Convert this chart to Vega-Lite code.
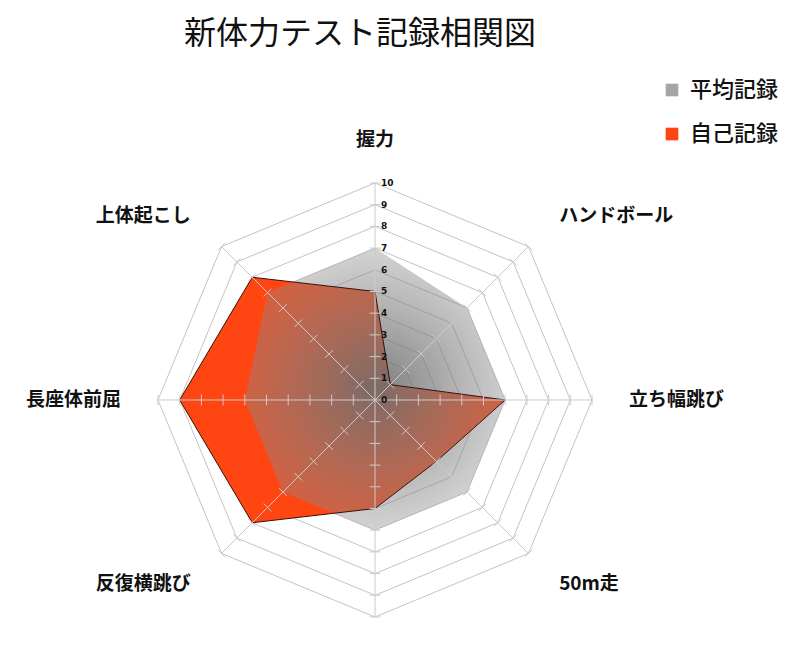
{
  "$schema": "https://vega.github.io/schema/vega-lite/v6.json",
  "width": 800,
  "height": 590,
  "autosize": "none",
  "padding": {"left": 0, "right": 0, "top": 60, "bottom": 0},
  "background": "white",
  "title": {
    "text": "新体力テスト記録相関図",
    "font": "Noto Sans CJK JP",
    "fontSize": 32,
    "fontWeight": "normal",
    "color": "#111111",
    "anchor": "middle",
    "frame": "group",
    "dx": -40,
    "offset": 9
  },
  "config": {"view": {"stroke": null}},
  "datasets": {
    "scores": [
      {"item": "握力", "i": 0, "avg": 7, "self": 5},
      {"item": "ハンドボール", "i": 1, "avg": 6, "self": 1},
      {"item": "立ち幅跳び", "i": 2, "avg": 6, "self": 6},
      {"item": "50m走", "i": 3, "avg": 6, "self": 4},
      {"item": "", "i": 4, "avg": 6, "self": 5},
      {"item": "反復横跳び", "i": 5, "avg": 6, "self": 8},
      {"item": "長座体前屈", "i": 6, "avg": 6, "self": 9},
      {"item": "上体起こし", "i": 7, "avg": 7, "self": 8}
    ],
    "grid": [
      {"level": 0, "spokes": [0, 1, 2, 3, 4, 5, 6, 7]},
      {"level": 1, "spokes": [0, 1, 2, 3, 4, 5, 6, 7]},
      {"level": 2, "spokes": [0, 1, 2, 3, 4, 5, 6, 7]},
      {"level": 3, "spokes": [0, 1, 2, 3, 4, 5, 6, 7]},
      {"level": 4, "spokes": [0, 1, 2, 3, 4, 5, 6, 7]},
      {"level": 5, "spokes": [0, 1, 2, 3, 4, 5, 6, 7]},
      {"level": 6, "spokes": [0, 1, 2, 3, 4, 5, 6, 7]},
      {"level": 7, "spokes": [0, 1, 2, 3, 4, 5, 6, 7]},
      {"level": 8, "spokes": [0, 1, 2, 3, 4, 5, 6, 7]},
      {"level": 9, "spokes": [0, 1, 2, 3, 4, 5, 6, 7]},
      {"level": 10, "spokes": [0, 1, 2, 3, 4, 5, 6, 7]}
    ]
  },
  "layer": [
    {
      "data": {"name": "grid"},
      "transform": [
        {"flatten": ["spokes"], "as": ["spoke"]},
        {"filter": "datum.level > 0"},
        {"calculate": "datum.level * sin(datum.spoke * PI / 4)", "as": "x"},
        {"calculate": "datum.level * cos(datum.spoke * PI / 4)", "as": "y"},
        {"calculate": "datum.level * sin((datum.spoke + 1) * PI / 4)", "as": "x2"},
        {"calculate": "datum.level * cos((datum.spoke + 1) * PI / 4)", "as": "y2"}
      ],
      "mark": {"type": "rule", "color": "#c4c4c4", "strokeWidth": 1},
      "encoding": {
        "x": {"field": "x", "type": "quantitative", "axis": null, "scale": {"domain": [-17.281, 19.585], "nice": false, "zero": false}},
        "y": {"field": "y", "type": "quantitative", "axis": null, "scale": {"domain": [-11.521, 15.668], "nice": false, "zero": false}},
        "x2": {"field": "x2"},
        "y2": {"field": "y2"}
      }
    },
    {
      "data": {"name": "scores"},
      "transform": [
        {"calculate": "datum.self * sin(datum.i * PI / 4)", "as": "x"},
        {"calculate": "datum.self * cos(datum.i * PI / 4)", "as": "y"}
      ],
      "mark": {"type": "line", "interpolate": "linear-closed", "strokeWidth": 0},
      "encoding": {
        "x": {"field": "x", "type": "quantitative", "axis": null, "scale": {"domain": [-17.281, 19.585], "nice": false, "zero": false}},
        "y": {"field": "y", "type": "quantitative", "axis": null, "scale": {"domain": [-11.521, 15.668], "nice": false, "zero": false}},
        "order": {"field": "i", "type": "quantitative"},
        "fill": {
          "datum": "自己記録",
          "type": "nominal",
          "scale": {"domain": ["平均記録", "自己記録"], "range": ["#a6a6a6", "#ff4512"]},
          "legend": {
            "orient": "none",
            "legendX": 661,
            "legendY": 19,
            "title": null,
            "symbolType": "square",
            "symbolSize": 160,
            "symbolStrokeWidth": 0,
            "symbolOpacity": 1,
            "labelFont": "Noto Sans CJK JP",
            "labelFontSize": 22,
            "labelFontWeight": 500,
            "labelColor": "#111111",
            "labelOffset": 7,
            "rowPadding": 22
          }
        }
      }
    },
    {
      "data": {"name": "scores"},
      "transform": [
        {"calculate": "datum.avg * sin(datum.i * PI / 4)", "as": "x"},
        {"calculate": "datum.avg * cos(datum.i * PI / 4)", "as": "y"}
      ],
      "mark": {
        "type": "line",
        "interpolate": "linear-closed",
        "strokeWidth": 0,
        "fill": {
          "gradient": "radial",
          "x1": 0.5, "y1": 0.5, "r1": 0,
          "x2": 0.5, "y2": 0.5, "r2": 0.5,
          "stops": [
            {"offset": 0, "color": "rgba(110,110,110,0.9)"},
            {"offset": 1, "color": "rgba(140,140,140,0.38)"}
          ]
        }
      },
      "encoding": {
        "x": {"field": "x", "type": "quantitative", "axis": null, "scale": {"domain": [-17.281, 19.585], "nice": false, "zero": false}},
        "y": {"field": "y", "type": "quantitative", "axis": null, "scale": {"domain": [-11.521, 15.668], "nice": false, "zero": false}},
        "order": {"field": "i", "type": "quantitative"}
      }
    },
    {
      "data": {"name": "scores"},
      "transform": [
        {"calculate": "datum.self * sin(datum.i * PI / 4)", "as": "x"},
        {"calculate": "datum.self * cos(datum.i * PI / 4)", "as": "y"}
      ],
      "mark": {"type": "line", "interpolate": "linear-closed", "stroke": "#3a1008", "strokeWidth": 1},
      "encoding": {
        "x": {"field": "x", "type": "quantitative", "axis": null, "scale": {"domain": [-17.281, 19.585], "nice": false, "zero": false}},
        "y": {"field": "y", "type": "quantitative", "axis": null, "scale": {"domain": [-11.521, 15.668], "nice": false, "zero": false}},
        "order": {"field": "i", "type": "quantitative"}
      }
    },
    {
      "data": {"name": "grid"},
      "transform": [
        {"flatten": ["spokes"], "as": ["spoke"]},
        {"filter": "datum.level == 10"},
        {"calculate": "0", "as": "x"},
        {"calculate": "0", "as": "y"},
        {"calculate": "datum.level * sin(datum.spoke * PI / 4)", "as": "x2"},
        {"calculate": "datum.level * cos(datum.spoke * PI / 4)", "as": "y2"}
      ],
      "mark": {"type": "rule", "color": "#cbcbcb", "strokeWidth": 1},
      "encoding": {
        "x": {"field": "x", "type": "quantitative", "axis": null, "scale": {"domain": [-17.281, 19.585], "nice": false, "zero": false}},
        "y": {"field": "y", "type": "quantitative", "axis": null, "scale": {"domain": [-11.521, 15.668], "nice": false, "zero": false}},
        "x2": {"field": "x2"},
        "y2": {"field": "y2"}
      }
    },
    {
      "data": {"name": "grid"},
      "transform": [
        {"flatten": ["spokes"], "as": ["spoke"]},
        {"filter": "datum.level > 0"},
        {"calculate": "datum.level * sin(datum.spoke * PI / 4)", "as": "cx"},
        {"calculate": "datum.level * cos(datum.spoke * PI / 4)", "as": "cy"},
        {"calculate": "datum.cx - 0.25 * cos(datum.spoke * PI / 4)", "as": "x"},
        {"calculate": "datum.cx + 0.25 * cos(datum.spoke * PI / 4)", "as": "x2"},
        {"calculate": "datum.cy + 0.25 * sin(datum.spoke * PI / 4)", "as": "y"},
        {"calculate": "datum.cy - 0.25 * sin(datum.spoke * PI / 4)", "as": "y2"}
      ],
      "mark": {"type": "rule", "color": "#cbcbcb", "strokeWidth": 1},
      "encoding": {
        "x": {"field": "x", "type": "quantitative", "axis": null, "scale": {"domain": [-17.281, 19.585], "nice": false, "zero": false}},
        "y": {"field": "y", "type": "quantitative", "axis": null, "scale": {"domain": [-11.521, 15.668], "nice": false, "zero": false}},
        "x2": {"field": "x2"},
        "y2": {"field": "y2"}
      }
    },
    {
      "data": {"name": "grid"},
      "transform": [
        {"calculate": "0", "as": "x"}
      ],
      "mark": {"type": "text", "align": "left", "baseline": "middle", "dx": 6, "font": "DejaVu Sans", "fontSize": 9, "fontWeight": "bold", "color": "#111111"},
      "encoding": {
        "x": {"field": "x", "type": "quantitative", "axis": null, "scale": {"domain": [-17.281, 19.585], "nice": false, "zero": false}},
        "y": {"field": "level", "type": "quantitative", "axis": null, "scale": {"domain": [-11.521, 15.668], "nice": false, "zero": false}},
        "text": {"field": "level", "type": "quantitative"}
      }
    },
    {
      "data": {"name": "scores"},
      "transform": [
        {"calculate": "datum.i % 4 == 2 ? 11.7 : 12", "as": "r"},
        {"calculate": "datum.r * sin(datum.i * PI / 4)", "as": "x"},
        {"calculate": "datum.r * cos(datum.i * PI / 4)", "as": "y"},
        {"filter": "datum.i == 0 || datum.i == 4"}
      ],
      "mark": {"type": "text", "align": "center", "baseline": "middle", "font": "Noto Sans CJK JP", "fontSize": 19, "fontWeight": "bold", "color": "#111111"},
      "encoding": {
        "x": {"field": "x", "type": "quantitative", "axis": null, "scale": {"domain": [-17.281, 19.585], "nice": false, "zero": false}},
        "y": {"field": "y", "type": "quantitative", "axis": null, "scale": {"domain": [-11.521, 15.668], "nice": false, "zero": false}},
        "text": {"field": "item", "type": "nominal"}
      }
    },
    {
      "data": {"name": "scores"},
      "transform": [
        {"calculate": "datum.i % 4 == 2 ? 11.7 : 12", "as": "r"},
        {"calculate": "datum.r * sin(datum.i * PI / 4)", "as": "x"},
        {"calculate": "datum.r * cos(datum.i * PI / 4)", "as": "y"},
        {"filter": "datum.i > 0 && datum.i < 4"}
      ],
      "mark": {"type": "text", "align": "left", "baseline": "middle", "font": "Noto Sans CJK JP", "fontSize": 19, "fontWeight": "bold", "color": "#111111"},
      "encoding": {
        "x": {"field": "x", "type": "quantitative", "axis": null, "scale": {"domain": [-17.281, 19.585], "nice": false, "zero": false}},
        "y": {"field": "y", "type": "quantitative", "axis": null, "scale": {"domain": [-11.521, 15.668], "nice": false, "zero": false}},
        "text": {"field": "item", "type": "nominal"}
      }
    },
    {
      "data": {"name": "scores"},
      "transform": [
        {"calculate": "datum.i % 4 == 2 ? 11.7 : 12", "as": "r"},
        {"calculate": "datum.r * sin(datum.i * PI / 4)", "as": "x"},
        {"calculate": "datum.r * cos(datum.i * PI / 4)", "as": "y"},
        {"filter": "datum.i > 4"}
      ],
      "mark": {"type": "text", "align": "right", "baseline": "middle", "font": "Noto Sans CJK JP", "fontSize": 19, "fontWeight": "bold", "color": "#111111"},
      "encoding": {
        "x": {"field": "x", "type": "quantitative", "axis": null, "scale": {"domain": [-17.281, 19.585], "nice": false, "zero": false}},
        "y": {"field": "y", "type": "quantitative", "axis": null, "scale": {"domain": [-11.521, 15.668], "nice": false, "zero": false}},
        "text": {"field": "item", "type": "nominal"}
      }
    }
  ]
}
